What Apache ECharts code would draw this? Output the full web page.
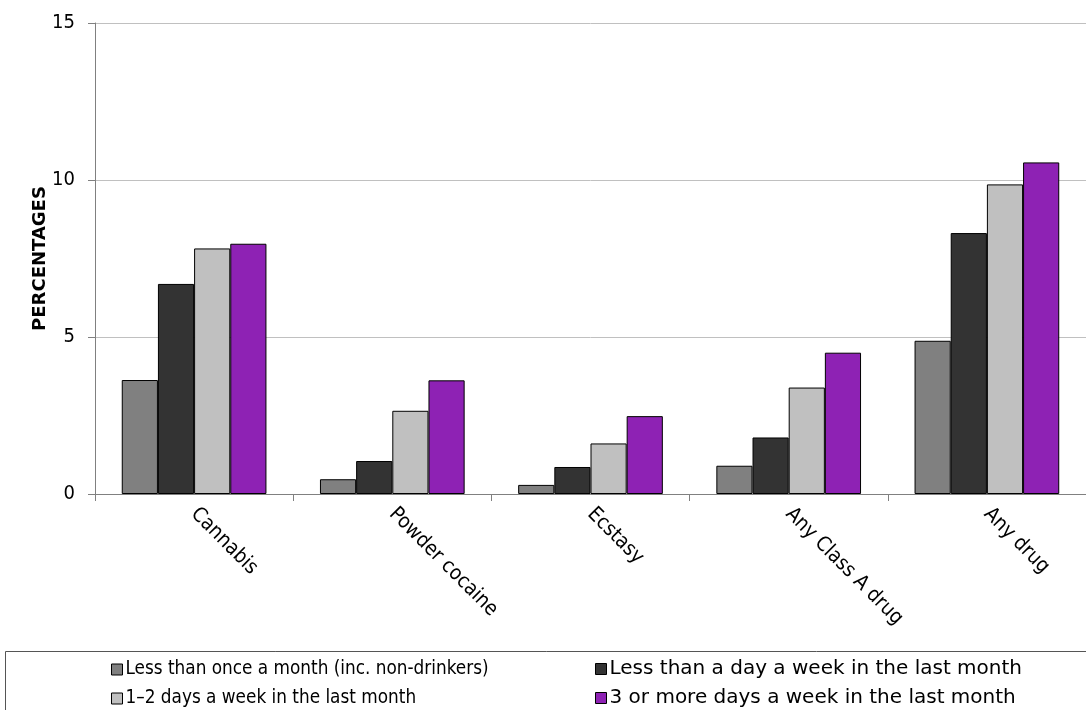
<!DOCTYPE html>
<html><head><meta charset="utf-8">
<script src="https://cdn.jsdelivr.net/npm/echarts@6/dist/echarts.min.js"></script>
<style>html,body{margin:0;padding:0;background:#fff}#c{width:1086px;height:710px}</style>
</head><body><div id="c"></div>
<script>
const categories = ["Cannabis", "Powder cocaine", "Ecstasy", "Any Class A drug", "Any drug"];
const seriesNames = ["Less than once a month (inc. non-drinkers)", "Less than a day a week in the last month", "1\u20132 days a week in the last month", "3 or more days a week in the last month"];
const lessThanMonthly = [3.63, 0.47, 0.29, 0.9, 4.88];
const lessThanWeekly = [6.69, 1.05, 0.86, 1.8, 8.31];
const oneTwoDays = [7.82, 2.65, 1.61, 3.39, 9.86];
const threePlusDays = [7.97, 3.62, 2.48, 4.5, 10.56];
const yTicks = [0, 5, 10, 15];
const colors = ["#808080", "#333333", "#C0C0C0", "#8E22B4"];
const allData = [lessThanMonthly, lessThanWeekly, oneTwoDays, threePlusDays];
const font = "DejaVu Sans";
const condFont = "DejaVu Sans Condensed";
const legendPos = [[106, 655], [590, 654], [106, 684], [590, 683]];
const legendFonts = [[condFont, 18.8], [font, 20], [condFont, 18.8], [font, 20]];
const chart = echarts.init(document.getElementById('c'));
chart.setOption({
  animation: false,
  grid: {left: 95, top: 23, width: 995, height: 471, containLabel: false},
  xAxis: {
    type: 'category', data: categories,
    axisLine: {lineStyle: {color: '#808080', width: 1}},
    axisTick: {show: true, length: 7, lineStyle: {color: '#808080'}},
    axisLabel: {rotate: -45, fontFamily: condFont, fontSize: 20.5, color: '#000', margin: 17}
  },
  yAxis: {
    type: 'value', min: yTicks[0], max: yTicks[yTicks.length - 1], interval: 5,
    name: 'PERCENTAGES', nameLocation: 'middle', nameGap: 46, nameMoveOverlap: false,
    nameTextStyle: {fontFamily: font, fontSize: 18, fontWeight: 'bold', color: '#000'},
    axisLine: {show: true, lineStyle: {color: '#808080'}},
    axisTick: {show: true, length: 7, lineStyle: {color: '#808080'}},
    axisLabel: {fontFamily: condFont, fontSize: 20, color: '#000', margin: 20},
    splitLine: {lineStyle: {color: '#C0C0C0'}}
  },
  legend: seriesNames.map((n, i) => ({
    data: [n], left: legendPos[i][0], top: legendPos[i][1], icon: 'rect',
    itemWidth: 11, itemHeight: 11, itemGap: 3,
    textStyle: {fontFamily: legendFonts[i][0], fontSize: legendFonts[i][1], color: '#000', padding: [0, 0, 0, -2]},
    itemStyle: {borderColor: '#000', borderWidth: 1}
  })),
  graphic: [{type: 'rect', shape: {x: 5.5, y: 651.5, width: 1100, height: 80}, style: {fill: 'none', stroke: '#555', lineWidth: 1}, silent: true}],
  series: seriesNames.map((n, i) => ({
    name: n, type: 'bar', data: allData[i], barGap: '0%', barCategoryGap: '27%',
    itemStyle: {color: colors[i], borderColor: '#000', borderWidth: 1}
  }))
});
</script></body></html>
